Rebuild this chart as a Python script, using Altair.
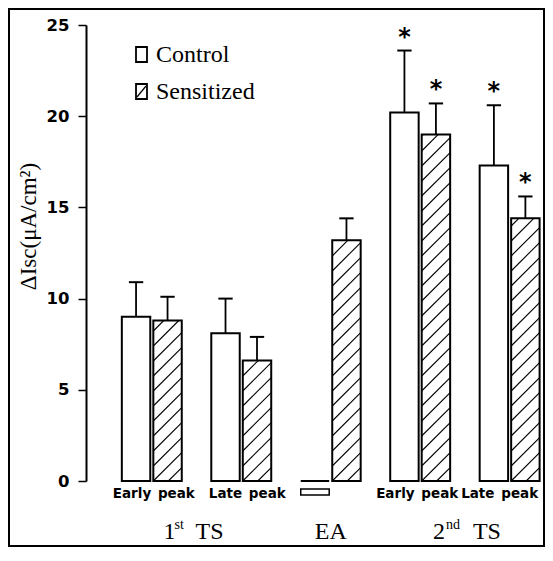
import altair as alt
import pandas as pd

# ---- data ----
GROUPS = ["1st TS early", "1st TS late", "EA", "2nd TS early", "2nd TS late"]
BAR_LABELS = ["Early\u2002peak", "Late\u2002peak", "", "Early\u2002peak", "Late\u2002peak"]
SERIES = ["Control", "Sensitized"]
CONTROL = [9.0, 8.1, 0.0, 20.2, 17.3]
CONTROL_ERR = [1.9, 1.9, 0.0, 3.4, 3.3]
SENSITIZED = [8.8, 6.6, 13.2, 19.0, 14.4]
SENSITIZED_ERR = [1.3, 1.3, 1.2, 1.7, 1.2]
CONTROL_SIG = [False, False, False, True, True]
SENSITIZED_SIG = [False, False, False, True, True]
SECTION_MAIN = ["1", "EA", "2"]
SECTION_SUP = ["st", "", "nd"]
SECTION_TAIL = ["TS", "", "TS"]
SECTION_POS = [0.5, 2.0, 3.5]

# ---- layout ----
W, H = 458, 456
PXU = 89.46
X_DOM = [-0.7355, -0.7355 + W / PXU]
Y_DOM = [0, 25]
PX_X = W / (X_DOM[1] - X_DOM[0])
PX_Y = H / (Y_DOM[1] - Y_DOM[0])
IN, OUT = 0.017, 0.335
SERIF = "Liberation Serif"
SANS = "DejaVu Sans"
SEC_OFFSETS = [(-33, -22, -1), (0, 0, 0), (-32, -19, 8)]
LABEL_DX = [2, 6, 0, -3, -10]

rows = []
for i, g in enumerate(GROUPS):
    for s, vals, errs, sig in [("Control", CONTROL, CONTROL_ERR, CONTROL_SIG),
                                ("Sensitized", SENSITIZED, SENSITIZED_ERR, SENSITIZED_SIG)]:
        x0, x1 = (i - OUT, i - IN) if s == "Control" else (i + IN, i + OUT)
        v, e = vals[i], errs[i]
        rows.append(dict(group=g, series=s, x0=x0, x1=x1, xc=(x0 + x1) / 2,
                         value=v, top=v + e, err=e, star="*" if sig[i] else "",
                         cap0=(x0 + x1) / 2 - 0.08, cap1=(x0 + x1) / 2 + 0.08))
df = pd.DataFrame(rows)

# hatch lines (45 deg in pixel space) inside sensitized bars
hatch = []
S = 15.0
for r in rows:
    if r["series"] != "Sensitized":
        continue
    bw = (r["x1"] - r["x0"]) * PX_X
    bh = r["value"] * PX_Y
    k = -int(bw // S) - 1
    while k * S < bh:
        xs_ = max(0.0, -k * S)
        xe_ = min(bw, bh - k * S)
        if xe_ > xs_ + 0.5:
            hatch.append(dict(hx0=r["x0"] + xs_ / PX_X, hx1=r["x0"] + xe_ / PX_X,
                              hy0=(xs_ + k * S) / PX_Y, hy1=(xe_ + k * S) / PX_Y))
        k += 1
hdf = pd.DataFrame(hatch)

lab_df = pd.DataFrame(dict(xc=[i + d / PX_X for i, d in enumerate(LABEL_DX)], label=BAR_LABELS))

xs = alt.Scale(domain=X_DOM, nice=False, zero=False)
ys = alt.Scale(domain=Y_DOM, nice=False)

base = alt.Chart(df)
bars = base.mark_rect(fill="white", stroke="black", strokeWidth=2).encode(
    x=alt.X("x0:Q", scale=xs, axis=None), x2="x1:Q",
    y=alt.Y("value:Q", scale=ys,
            axis=alt.Axis(values=[0, 5, 10, 15, 20, 25], grid=False, tickSize=8,
                          tickWidth=1.5, domainWidth=2, domainColor="black", tickColor="black",
                          labelFont=SANS, labelFontWeight="bold", labelFontSize=16.5,
                          labelColor="black", labelPadding=9,
                          title="ΔIsc(μA/cm²)", titleFont=SERIF, titleFontSize=23,
                          titleFontWeight="normal", titleColor="black", titleAngle=-90,
                          titleX=-51, titleY=201, titleBaseline="alphabetic")),
    y2=alt.datum(0),
)
hatch_l = alt.Chart(hdf).mark_rule(color="black", strokeWidth=1.1).encode(
    x=alt.X("hx0:Q", scale=xs), x2="hx1:Q", y=alt.Y("hy0:Q", scale=ys), y2="hy1:Q")
err_df = df[df.err > 0]
errv = alt.Chart(err_df).mark_rule(color="black", strokeWidth=1.8).encode(
    x=alt.X("xc:Q", scale=xs), y=alt.Y("value:Q", scale=ys), y2="top:Q")
caps = alt.Chart(err_df).mark_rule(color="black", strokeWidth=2).encode(
    x=alt.X("cap0:Q", scale=xs), x2="cap1:Q", y=alt.Y("top:Q", scale=ys))
stars = alt.Chart(err_df).mark_text(font=SANS, fontWeight="bold", fontSize=24,
                                    baseline="alphabetic", dy=-6).encode(
    x=alt.X("xc:Q", scale=xs), y=alt.Y("top:Q", scale=ys), text="star:N")
bar_labels = alt.Chart(lab_df).mark_text(font=SANS, fontWeight="bold", fontSize=13.5,
                                         baseline="middle", dy=13).encode(
    x=alt.X("xc:Q", scale=xs), y=alt.datum(0), text="label:N")

# EA control box symbol beneath zero bar
ea = df[(df.group == "EA") & (df.series == "Control")]
ea_box = alt.Chart(ea).mark_rect(fill="white", stroke="black", strokeWidth=1.5).encode(
    x=alt.X("x0:Q", scale=xs), x2="x1:Q", y=alt.value(464), y2=alt.value(470))

# section labels with superscripts
sec_layers = []
for main, sup, tail, pos, (d1, d2, d3) in zip(SECTION_MAIN, SECTION_SUP, SECTION_TAIL,
                                               SECTION_POS, SEC_OFFSETS):
    sdf = pd.DataFrame(dict(xc=[pos], main=[main], sup=[sup], tail=[tail]))
    sc = alt.Chart(sdf)
    if sup:
        sec_layers.append(sc.mark_text(font=SERIF, fontSize=24, align="left", dx=d1, dy=58,
                                       baseline="alphabetic").encode(
            x=alt.X("xc:Q", scale=xs), y=alt.datum(0), text="main:N"))
        sec_layers.append(sc.mark_text(font=SERIF, fontSize=14, align="left", dx=d2, dy=48,
                                       baseline="alphabetic").encode(
            x=alt.X("xc:Q", scale=xs), y=alt.datum(0), text="sup:N"))
        sec_layers.append(sc.mark_text(font=SERIF, fontSize=24, align="left", dx=d3, dy=58,
                                       baseline="alphabetic").encode(
            x=alt.X("xc:Q", scale=xs), y=alt.datum(0), text="tail:N"))
    else:
        sec_layers.append(sc.mark_text(font=SERIF, fontSize=24, align="center", dy=58,
                                       baseline="alphabetic").encode(
            x=alt.X("xc:Q", scale=xs), y=alt.datum(0), text="main:N"))

# legend
leg_df = pd.DataFrame(dict(series=SERIES, ty=[37, 74], by0=[22, 59], by1=[37, 74]))
leg_box = alt.Chart(leg_df).mark_rect(fill="white", stroke="black", strokeWidth=1.8).encode(
    x=alt.value(50), x2=alt.value(61), y=alt.Y("by0:Q", scale=None), y2="by1:Q")
leg_txt = alt.Chart(leg_df).mark_text(font=SERIF, fontSize=24, align="left",
                                      baseline="alphabetic").encode(
    x=alt.value(70), y=alt.Y("ty:Q", scale=None), text="series:N")
leg_hatch = alt.Chart(leg_df[leg_df.series == "Sensitized"]).mark_rule(
    color="black", strokeWidth=1.2).encode(
    x=alt.value(51), x2=alt.value(60), y=alt.value(72), y2=alt.value(61))

frame = alt.Chart(df.head(1)).mark_rect(fill=None, stroke="black", strokeWidth=2).encode(
    x=alt.value(-77), x2=alt.value(458), y=alt.value(-16), y2=alt.value(521))

chart = alt.layer(
    bars, hatch_l, errv, caps, stars, bar_labels, ea_box, *sec_layers,
    leg_box, leg_hatch, leg_txt, frame
).properties(
    width=W, height=H,
    padding={"left": 78, "top": 17, "right": 1, "bottom": 66},
    autosize=alt.AutoSizeParams(type="none"),
    background="white",
).configure_view(strokeWidth=0)

chart.save("out.html", embed_options={"renderer": "svg", "actions": False})
